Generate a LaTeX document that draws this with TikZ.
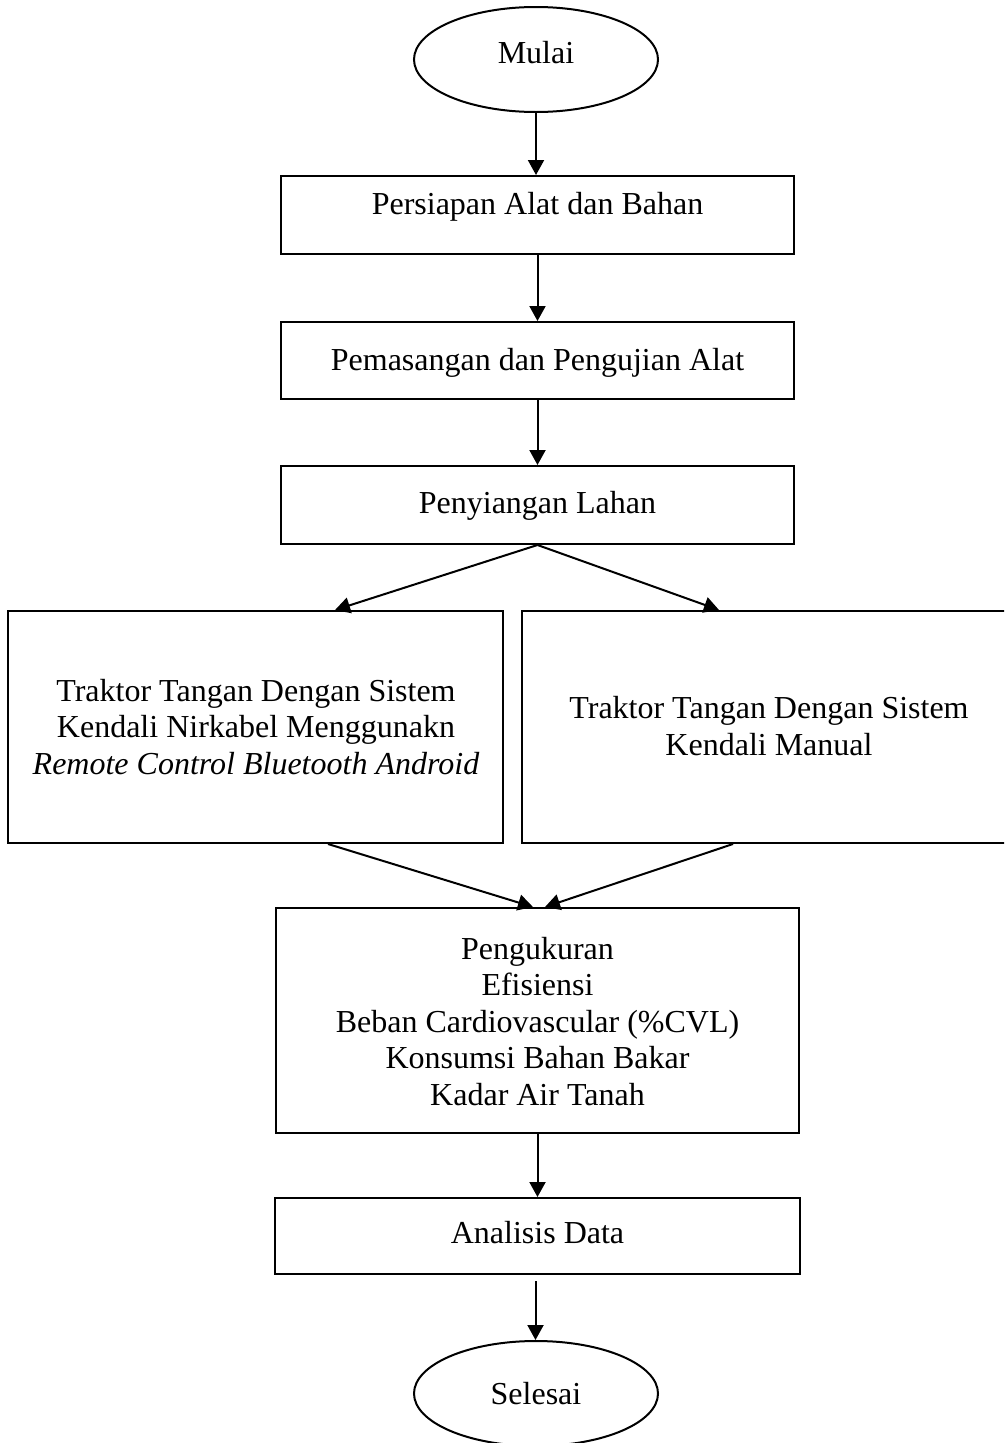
\documentclass[tikz,border=0pt]{standalone}
\usepackage{fontspec}
\setmainfont{Liberation Serif}
\usetikzlibrary{shapes.geometric,arrows.meta}
\tikzset{
  shapebox/.style={draw=black,line width=2pt,rectangle,inner sep=0pt},
  oval/.style={draw=black,line width=2pt,ellipse,inner sep=0pt,minimum width=244pt,minimum height=105pt},
  txt/.style={anchor=base,align=center,inner sep=0pt,font=\fontsize{32}{36.5}\selectfont},
  arr/.style={line width=2pt,-{Triangle[length=15pt,width=16pt]}}
}
\begin{document}
\begin{tikzpicture}[x=1pt,y=-1pt]
\useasboundingbox (0,0) rectangle (1004,1443);
\clip (0,0) rectangle (1004,1443);
\fill[white] (0,0) rectangle (1004,1443);
% shapes
\node[oval] (m) at (536,59.5) {};
\node[shapebox,minimum width=513pt,minimum height=78pt] (b1) at (537.5,215) {};
\node[shapebox,minimum width=513pt,minimum height=77pt] (b2) at (537.5,360.5) {};
\node[shapebox,minimum width=513pt,minimum height=78pt] (b3) at (537.5,505) {};
\node[shapebox,minimum width=495pt,minimum height=232pt] (bl) at (255.5,727) {};
\node[shapebox,minimum width=494pt,minimum height=232pt] (br) at (769,727) {};
\node[shapebox,minimum width=523pt,minimum height=225pt] (bp) at (537.5,1020.5) {};
\node[shapebox,minimum width=525pt,minimum height=76pt] (ba) at (537.5,1236) {};
\node[oval] (s) at (536,1393.5) {};
% texts (multi-line nodes: base = last line)
\node[txt] (t0) at (536,63) {Mulai};
\node[txt] (t1) at (537.5,214) {Persiapan Alat dan Bahan};
\node[txt] (t2) at (537.5,370) {Pemasangan dan Pengujian Alat};
\node[txt] (t3) at (537.5,513) {Penyiangan Lahan};
\node[txt] (tl) at (256,774) {Traktor Tangan Dengan Sistem\\Kendali Nirkabel Menggunakn\\\textit{Remote Control Bluetooth Android}};
\node[txt] (tr) at (769,755) {Traktor Tangan Dengan Sistem\\Kendali Manual};
\node[txt] (tp) at (537.5,1105) {Pengukuran\\Efisiensi\\Beban Cardiovascular (\%CVL)\\Konsumsi Bahan Bakar\\Kadar Air Tanah};
\node[txt] (ta) at (537.5,1243) {Analisis Data};
\node[txt] (ts) at (536,1404) {Selesai};
% connectors
\draw[arr] (m.south) -- (m.south |- b1.north);
\draw[arr] (b1.south) -- (b2.north);
\draw[arr] (b2.south) -- (b3.north);
\draw[arr] (b3.south) -- ([xshift=79.5pt]bl.north);
\draw[arr] (b3.south) -- ([xshift=-50pt]br.north);
\draw[arr] ([xshift=72.5pt]bl.south) -- ([xshift=-4.5pt]bp.north);
\draw[arr] ([xshift=-36pt]br.south) -- ([xshift=7.5pt]bp.north);
\draw[arr] (bp.south) -- (ba.north);
\draw[arr] ([yshift=-6pt,xshift=-2pt]ba.south) -- ([xshift=-0.5pt]s.north);
\end{tikzpicture}
\end{document}
